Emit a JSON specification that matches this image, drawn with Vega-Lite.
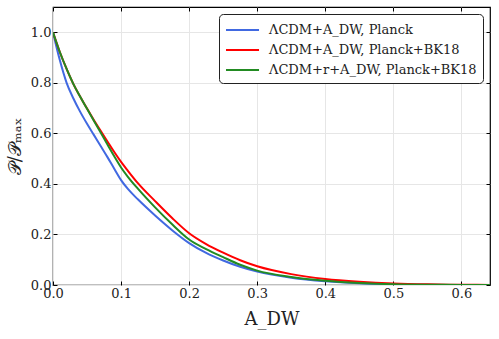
{
  "$schema": "https://vega.github.io/schema/vega-lite/v6.json",
  "width": 437,
  "height": 278,
  "autosize": "none",
  "padding": {"left": 53, "top": 7, "right": 9, "bottom": 54},
  "background": "white",
  "config": {
    "view": {"stroke": "black", "strokeWidth": 1.2},
    "font": "DejaVu Serif",
    "text": {"font": "DejaVu Serif"},
    "legend": {"labelFont": "DejaVu Serif"},
    "axis": {
      "labelFont": "DejaVu Serif",
      "labelFontSize": 13,
      "labelColor": "#222",
      "titleFont": "DejaVu Serif",
      "titleFontWeight": "normal",
      "titleColor": "#222",
      "tickColor": "black",
      "tickSize": -4,
      "tickWidth": 1,
      "domain": false,
      "gridColor": "#e6e6e6",
      "gridWidth": 1
    }
  },
  "data": {
    "values": [
      {"x": 0, "s": "b", "p": 1.0}, {"x": 0.01, "s": "b", "p": 0.89}, {"x": 0.02, "s": "b", "p": 0.8}, {"x": 0.03, "s": "b", "p": 0.738}, {"x": 0.04, "s": "b", "p": 0.685}, {"x": 0.05, "s": "b", "p": 0.638}, {"x": 0.06, "s": "b", "p": 0.594}, {"x": 0.07, "s": "b", "p": 0.55}, {"x": 0.08, "s": "b", "p": 0.506}, {"x": 0.09, "s": "b", "p": 0.46}, {"x": 0.1, "s": "b", "p": 0.415}, {"x": 0.11, "s": "b", "p": 0.38}, {"x": 0.125, "s": "b", "p": 0.338}, {"x": 0.15, "s": "b", "p": 0.275}, {"x": 0.175, "s": "b", "p": 0.217}, {"x": 0.2, "s": "b", "p": 0.166}, {"x": 0.225, "s": "b", "p": 0.127}, {"x": 0.25, "s": "b", "p": 0.097}, {"x": 0.275, "s": "b", "p": 0.072}, {"x": 0.3, "s": "b", "p": 0.053}, {"x": 0.35, "s": "b", "p": 0.029}, {"x": 0.4, "s": "b", "p": 0.015}, {"x": 0.45, "s": "b", "p": 0.007}, {"x": 0.5, "s": "b", "p": 0.003}, {"x": 0.55, "s": "b", "p": 0.001}, {"x": 0.6, "s": "b", "p": 0.0002}, {"x": 0.642, "s": "b", "p": 0.0},
      {"x": 0, "s": "r", "p": 1.0}, {"x": 0.01, "s": "r", "p": 0.922}, {"x": 0.02, "s": "r", "p": 0.855}, {"x": 0.03, "s": "r", "p": 0.795}, {"x": 0.04, "s": "r", "p": 0.745}, {"x": 0.05, "s": "r", "p": 0.698}, {"x": 0.06, "s": "r", "p": 0.653}, {"x": 0.07, "s": "r", "p": 0.61}, {"x": 0.08, "s": "r", "p": 0.568}, {"x": 0.09, "s": "r", "p": 0.526}, {"x": 0.1, "s": "r", "p": 0.487}, {"x": 0.11, "s": "r", "p": 0.452}, {"x": 0.125, "s": "r", "p": 0.402}, {"x": 0.15, "s": "r", "p": 0.332}, {"x": 0.175, "s": "r", "p": 0.265}, {"x": 0.2, "s": "r", "p": 0.205}, {"x": 0.225, "s": "r", "p": 0.162}, {"x": 0.25, "s": "r", "p": 0.128}, {"x": 0.275, "s": "r", "p": 0.098}, {"x": 0.3, "s": "r", "p": 0.074}, {"x": 0.35, "s": "r", "p": 0.043}, {"x": 0.4, "s": "r", "p": 0.024}, {"x": 0.45, "s": "r", "p": 0.013}, {"x": 0.5, "s": "r", "p": 0.006}, {"x": 0.55, "s": "r", "p": 0.0025}, {"x": 0.6, "s": "r", "p": 0.001}, {"x": 0.642, "s": "r", "p": 0.0003},
      {"x": 0, "s": "g", "p": 1.0}, {"x": 0.01, "s": "g", "p": 0.922}, {"x": 0.02, "s": "g", "p": 0.855}, {"x": 0.03, "s": "g", "p": 0.795}, {"x": 0.04, "s": "g", "p": 0.745}, {"x": 0.05, "s": "g", "p": 0.697}, {"x": 0.06, "s": "g", "p": 0.65}, {"x": 0.07, "s": "g", "p": 0.603}, {"x": 0.08, "s": "g", "p": 0.556}, {"x": 0.09, "s": "g", "p": 0.509}, {"x": 0.1, "s": "g", "p": 0.465}, {"x": 0.11, "s": "g", "p": 0.428}, {"x": 0.125, "s": "g", "p": 0.38}, {"x": 0.15, "s": "g", "p": 0.307}, {"x": 0.175, "s": "g", "p": 0.24}, {"x": 0.2, "s": "g", "p": 0.18}, {"x": 0.225, "s": "g", "p": 0.142}, {"x": 0.25, "s": "g", "p": 0.11}, {"x": 0.275, "s": "g", "p": 0.08}, {"x": 0.3, "s": "g", "p": 0.057}, {"x": 0.35, "s": "g", "p": 0.032}, {"x": 0.4, "s": "g", "p": 0.017}, {"x": 0.45, "s": "g", "p": 0.008}, {"x": 0.5, "s": "g", "p": 0.003}, {"x": 0.55, "s": "g", "p": 0.001}, {"x": 0.6, "s": "g", "p": 0.0003}, {"x": 0.642, "s": "g", "p": 0.0}
    ]
  },
  "resolve": {"axis": {"x": "independent", "y": "independent"}},
  "layer": [
    {
      "mark": {"type": "line", "strokeWidth": 2, "interpolate": "monotone", "clip": true},
      "encoding": {
        "x": {"field": "x", "type": "quantitative", "scale": {"domain": [0, 0.642], "nice": false, "zero": false},
          "axis": {"orient": "bottom", "values": [0, 0.1, 0.2, 0.3, 0.4, 0.5, 0.6], "format": ".1f", "title": "A_DW", "titleFontSize": 18, "titlePadding": 10, "labelPadding": 6, "labelFlush": false}},
        "y": {"field": "p", "type": "quantitative", "scale": {"domain": [0, 1.1], "nice": false},
          "axis": {"orient": "left", "values": [0, 0.2, 0.4, 0.6, 0.8, 1.0], "format": ".1f", "title": "𝒫/𝒫ₘₐₓ", "titleFontSize": 18, "titlePadding": 6, "labelPadding": 6, "labelFlush": false}},
        "color": {"field": "s", "type": "nominal",
          "scale": {"domain": ["b", "r", "g"], "range": ["#4169e1", "#ff0000", "#228b22"]},
          "legend": {
            "title": null,
            "orient": "top-right",
            "offset": 7,
            "labelExpr": "datum.value == 'b' ? 'ΛCDM+A_DW, Planck' : datum.value == 'r' ? 'ΛCDM+A_DW, Planck+BK18' : 'ΛCDM+r+A_DW, Planck+BK18'",
            "symbolType": "M-1,0H2.67",
            "symbolSize": 324,
            "symbolStrokeWidth": 2,
            "labelOffset": 24,
            "labelFont": "DejaVu Serif",
            "labelFontSize": 13,
            "labelColor": "#222",
            "rowPadding": 3,
            "padding": 6,
            "strokeColor": "#222",
            "fillColor": "white",
            "cornerRadius": 4,
            "labelLimit": 400
          }}
      }
    },
    {
      "mark": {"type": "line", "opacity": 0},
      "encoding": {
        "x": {"field": "x", "type": "quantitative", "axis": {"orient": "top", "values": [0, 0.1, 0.2, 0.3, 0.4, 0.5, 0.6], "labels": false, "grid": false, "title": null}},
        "y": {"field": "p", "type": "quantitative", "axis": {"orient": "right", "values": [0, 0.2, 0.4, 0.6, 0.8, 1.0], "labels": false, "grid": false, "title": null}}
      }
    }
  ]
}
